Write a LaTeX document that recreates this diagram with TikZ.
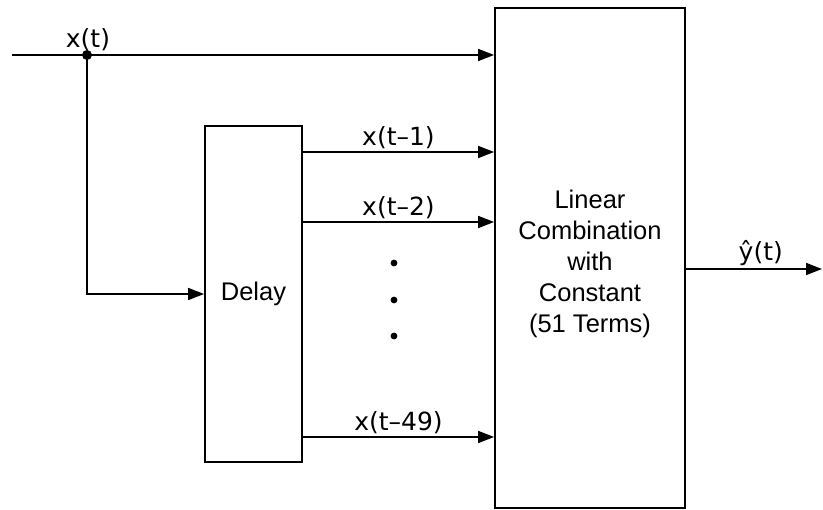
\documentclass[tikz,border=0pt]{standalone}
\usepackage{fontspec}
\setmainfont{Liberation Sans}
\newfontfamily\sigfont[Ligatures=TeX]{DejaVu Sans}
\usetikzlibrary{arrows.meta,calc,positioning}

\begin{document}
\begin{tikzpicture}[
  x=1pt,y=-1pt,
  box/.style={draw,line width=1.8pt,align=center,font=\fontsize{25.5}{31}\selectfont},
  flow/.style={-{Triangle[length=16pt,width=12pt]},line width=1.7pt},
  sig/.style={font=\sigfont\fontsize{25}{27}\selectfont,inner sep=2pt}
]
\useasboundingbox (0,0) rectangle (823,510);

% Blocks.
\node[box,minimum width=97pt,minimum height=336pt] (delay) at (253.5,294) {Delay};
\node[box,minimum width=190pt,minimum height=500pt] (combo) at (590,258) {};
\node[box,draw=none] (txt) at (590,264)
  {Linear\\Combination\\with\\Constant\\(51 Terms)};

% Input and branch.
\coordinate (in) at (12,55);
\coordinate (j) at (87,55);
\draw[flow] (in) -- (combo.west |- j);
\fill (j) circle (5pt);
\node[sig,anchor=south] at (88,53) {x(t)};
\draw[flow] (j) |- (delay.west);

% Delayed taps.
\foreach \y/\k in {152/1,222/2,437/49}
  \draw[flow] (delay.east |- 0,\y) -- node[sig,above,pos=0.5] {x(t--\k)} (combo.west |- 0,\y);
\foreach \y in {263,300,336}
  \fill (394,\y) circle (3.4pt);

% Output.
\coordinate (out) at (822,269);
\draw[flow] (combo.east |- out) -- node[sig,above,pos=0.55] {ŷ(t)} (out);
\end{tikzpicture}
\end{document}
